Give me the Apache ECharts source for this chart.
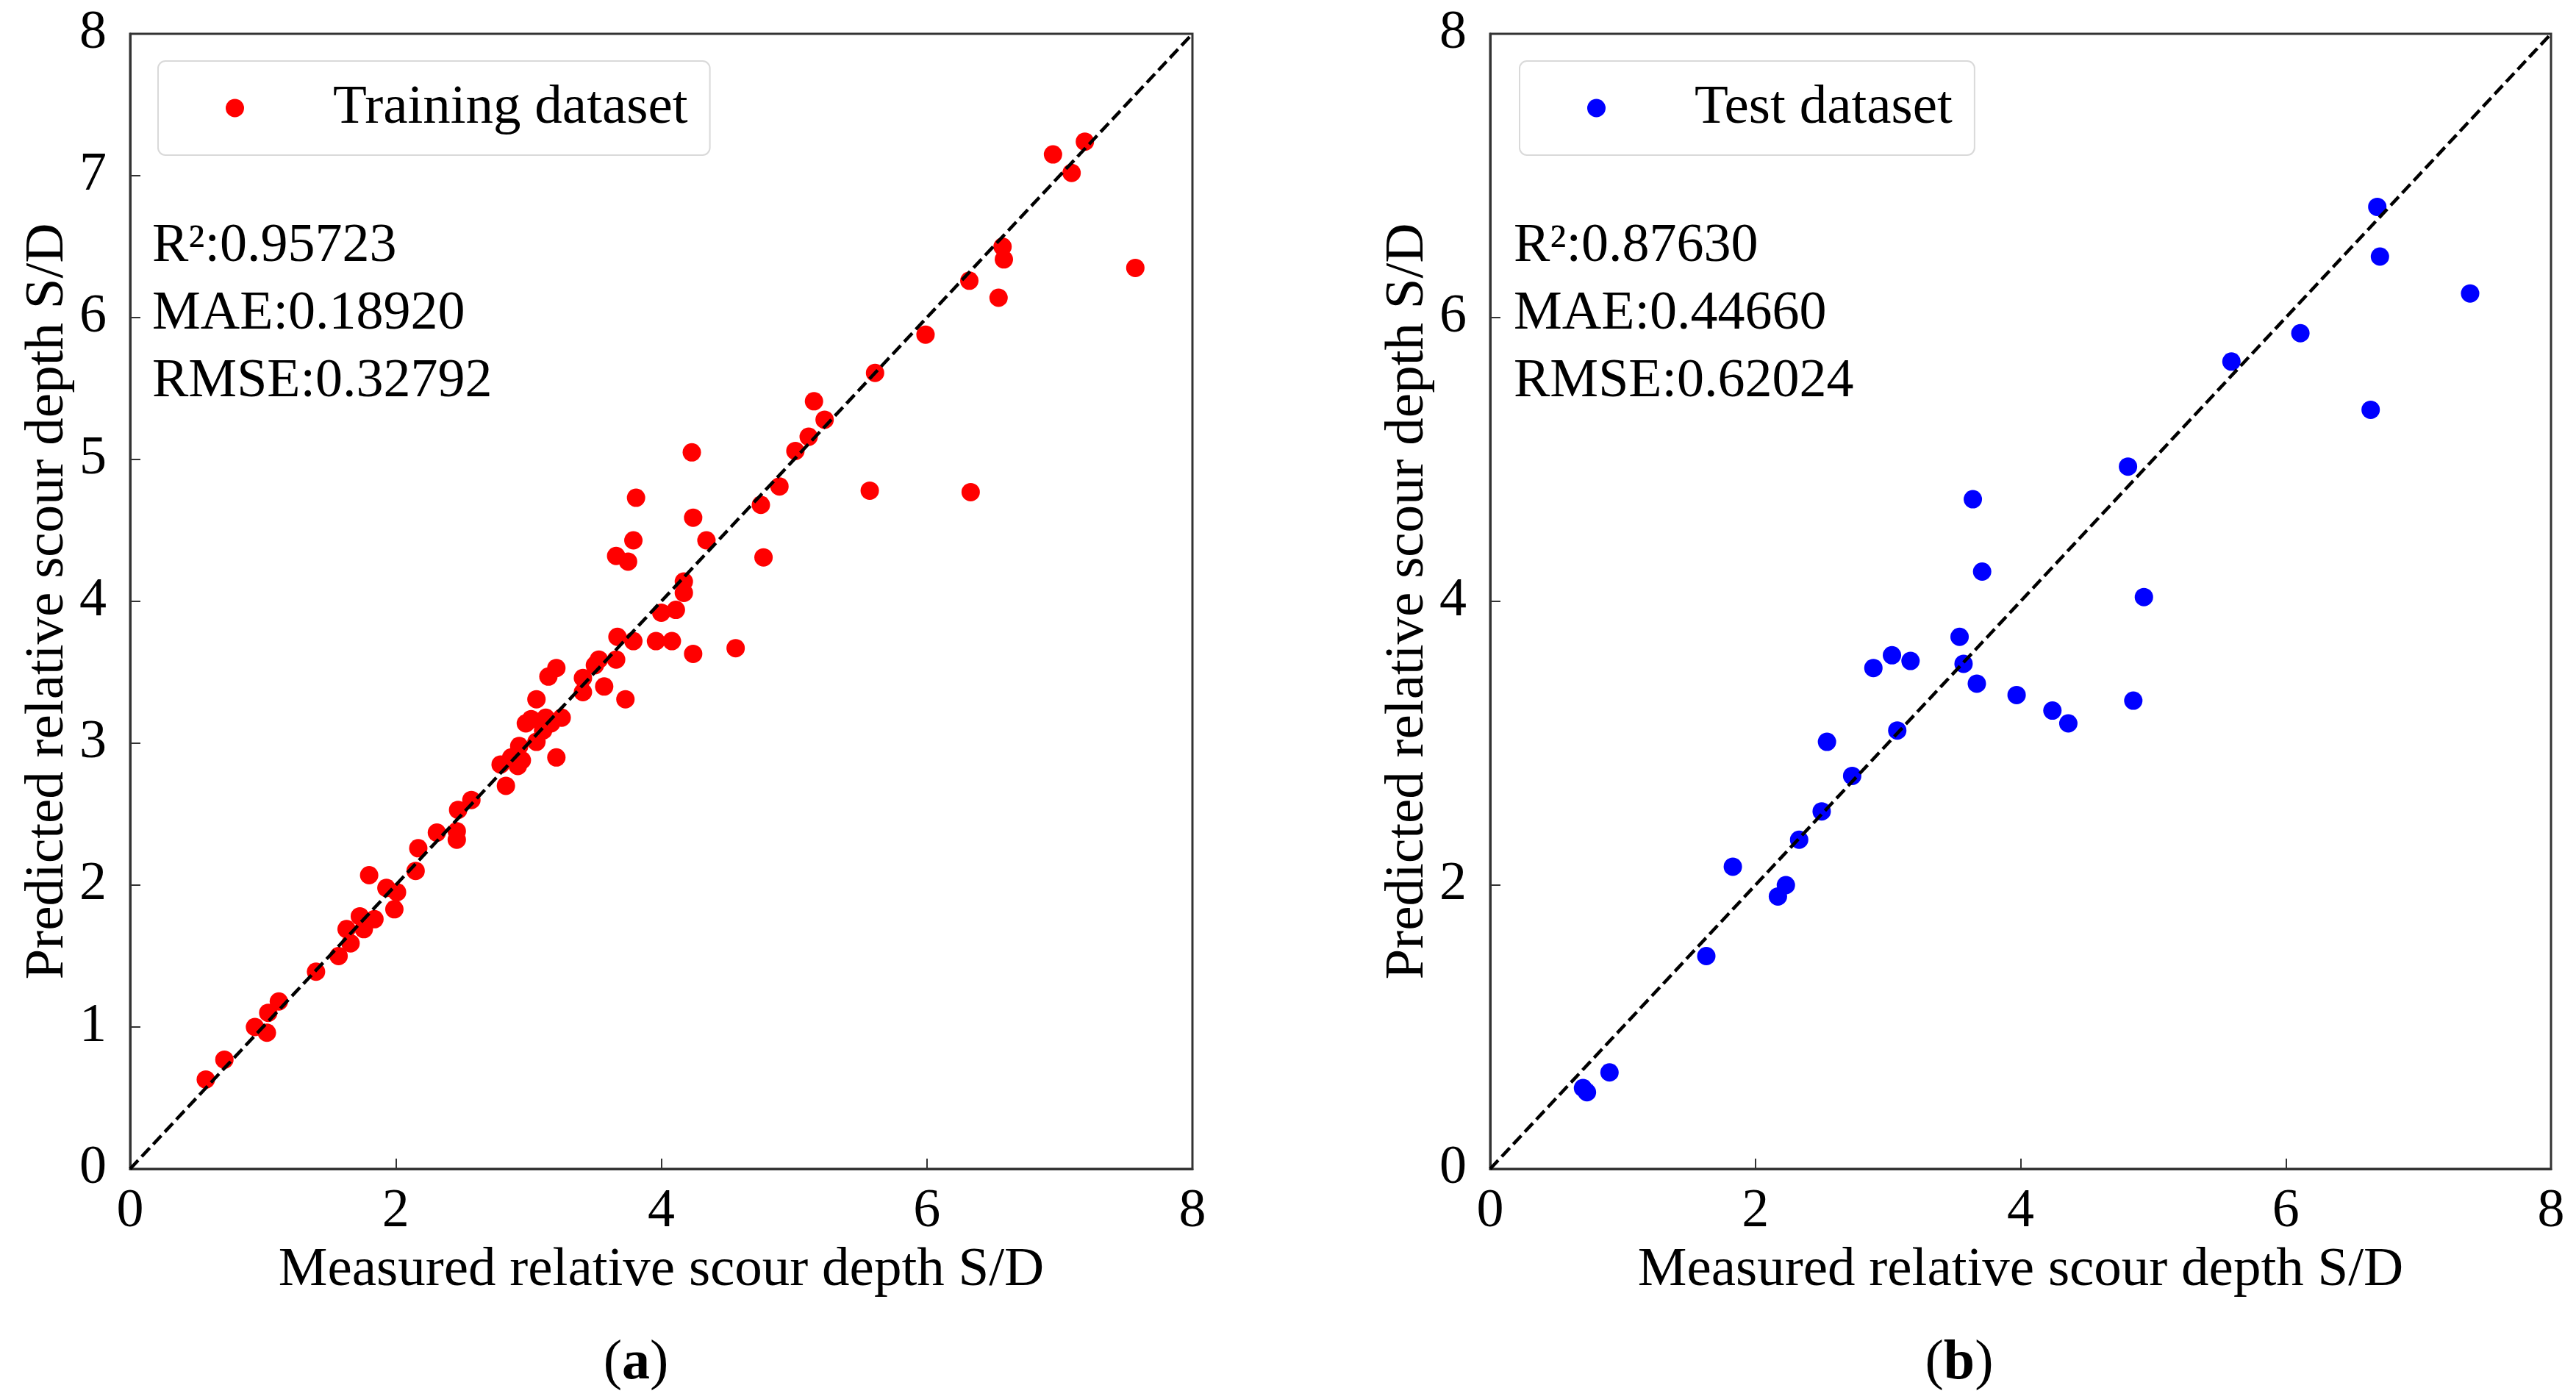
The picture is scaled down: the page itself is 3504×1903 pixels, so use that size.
<!DOCTYPE html>
<html>
<head>
<meta charset="utf-8">
<script src="https://cdn.jsdelivr.net/npm/echarts@6/dist/echarts.min.js"></script>
<style>
  html, body { margin: 0; padding: 0; background: #fff; }
  #main { width: 3504px; height: 1903px; }
</style>
</head>
<body>
<div id="main"></div>
<script>
// training set: measured (x) vs predicted (y) S/D
var trainX = [0.57, 0.71, 0.94, 1.04, 1.03, 1.12, 1.40, 1.57, 1.63, 1.66, 1.73, 1.76, 1.80, 1.84, 1.93, 1.99,
  2.01, 2.15, 2.17, 2.31, 2.46, 2.46, 2.47, 2.57, 2.79, 2.83, 2.87, 2.92, 2.93, 2.95, 2.98, 3.02,
  3.06, 3.06, 3.11, 3.13, 3.17, 3.15, 3.21, 3.21, 3.25, 3.41, 3.41, 3.50, 3.53, 3.57, 3.66, 3.67,
  3.73, 3.79, 3.66, 3.75, 3.79, 3.81, 3.96, 4.00, 4.08, 4.11, 4.17, 4.17, 4.23, 4.24, 4.24, 4.34,
  4.56, 4.75, 4.77, 4.89, 5.01, 5.11, 5.15, 5.23, 5.57, 5.61, 5.99, 6.32, 6.33, 6.54, 6.57, 6.58,
  6.95, 7.09, 7.19, 7.57];
var trainY = [0.63, 0.77, 1.00, 1.10, 0.96, 1.18, 1.39, 1.50, 1.69, 1.59, 1.78, 1.69, 2.07, 1.76, 1.98, 1.83,
  1.95, 2.10, 2.26, 2.37, 2.32, 2.38, 2.53, 2.60, 2.85, 2.70, 2.90, 2.84, 2.98, 2.88, 3.14, 3.17,
  3.01, 3.31, 3.09, 3.18, 3.14, 3.47, 3.53, 2.90, 3.18, 3.36, 3.46, 3.55, 3.59, 3.40, 3.59, 3.75,
  3.31, 3.72, 4.32, 4.28, 4.43, 4.73, 3.72, 3.92, 3.72, 3.94, 4.06, 4.14, 5.05, 3.63, 4.59, 4.43,
  3.67, 4.68, 4.31, 4.81, 5.06, 5.16, 5.41, 5.28, 4.78, 5.61, 5.88, 6.26, 4.77, 6.14, 6.50, 6.41,
  7.15, 7.02, 7.24, 6.35];

// test set
var testX = [0.70, 0.73, 0.90, 1.63, 1.83, 2.17, 2.23, 2.33, 2.50, 2.54, 2.73, 2.89, 3.03, 3.07, 3.17, 3.54,
  3.57, 3.64, 3.67, 3.71, 3.97, 4.24, 4.36, 4.81, 4.85, 4.93, 5.59, 6.11, 6.64, 6.69, 6.71, 7.39];
var testY = [0.57, 0.54, 0.68, 1.50, 2.13, 1.92, 2.00, 2.32, 2.52, 3.01, 2.77, 3.53, 3.62, 3.09, 3.58, 3.75,
  3.56, 4.72, 3.42, 4.21, 3.34, 3.23, 3.14, 4.95, 3.30, 4.03, 5.69, 5.89, 5.35, 6.78, 6.43, 6.17];

var xTicks = [0, 2, 4, 6, 8];
var statsA = ['R²:0.95723', 'MAE:0.18920', 'RMSE:0.32792'];
var statsB = ['R²:0.87630', 'MAE:0.44660', 'RMSE:0.62024'];
var diag = [[0, 0], [8, 8]];

function pairs(xs, ys) {
  var out = [];
  for (var i = 0; i < xs.length; i++) out.push([xs[i], ys[i]]);
  return out;
}

var FONT = 'Liberation Serif';
var myChart = echarts.init(document.getElementById('main'));

function xAxisCfg(idx) {
  return {
    gridIndex: idx, type: 'value', min: xTicks[0], max: xTicks[xTicks.length - 1], interval: 2,
    name: 'Measured relative scour depth S/D', nameLocation: 'middle', nameGap: 96,
    nameTextStyle: { fontSize: 75, fontFamily: FONT, color: '#000' },
    axisLine: { lineStyle: { color: '#333', width: 3 } },
    axisTick: { inside: true, length: 14, lineStyle: { color: '#333', width: 2 } },
    axisLabel: { fontSize: 74, fontFamily: FONT, color: '#000', margin: 22 },
    splitLine: { show: false }
  };
}
function yAxisCfg(idx, step) {
  return {
    gridIndex: idx, type: 'value', min: 0, max: 8, interval: step,
    name: 'Predicted relative scour depth S/D', nameLocation: 'middle', nameGap: 74,
    nameTextStyle: { fontSize: 75, fontFamily: FONT, color: '#000' },
    axisLine: { lineStyle: { color: '#333', width: 3 } },
    axisTick: { inside: true, length: 14, lineStyle: { color: '#333', width: 2 } },
    axisLabel: { fontSize: 74, fontFamily: FONT, color: '#000', margin: 32 },
    splitLine: { show: false }
  };
}
function legendCfg(name, left) {
  return {
    data: [name], left: left, top: 83, icon: 'circle', itemWidth: 25, itemHeight: 25,
    selectedMode: false,
    padding: [23, 30, 23, 92],
    borderColor: '#d9d9d9', borderWidth: 2, borderRadius: 10, backgroundColor: '#fff',
    textStyle: { fontSize: 75, fontFamily: FONT, color: '#000', lineHeight: 82, padding: [0, 0, 0, 116] }
  };
}
function statsCfg(lines, left) {
  return {
    text: lines.join('\n'), left: left, top: 290, padding: 0,
    textStyle: { fontSize: 74, fontFamily: FONT, fontWeight: 'normal', color: '#000', lineHeight: 92 }
  };
}
function captionCfg(letter, x) {
  return {
    type: 'text', x: x, y: 1855,
    style: {
      text: '{p|(}{b|' + letter + '}{p|)}', align: 'center', verticalAlign: 'middle',
      rich: {
        p: { fontSize: 76, fontFamily: FONT, fill: '#000' },
        b: { fontSize: 76, fontFamily: FONT, fontWeight: 'bold', fill: '#000' }
      }
    }
  };
}

var option = {
  backgroundColor: '#fff',
  animation: false,
  title: [statsCfg(statsA, 207), statsCfg(statsB, 2059)],
  legend: [legendCfg('Training dataset', 215), legendCfg('Test dataset', 2067)],
  grid: [
    { left: 177, top: 46, width: 1445, height: 1544, show: true, borderColor: '#333', borderWidth: 3 },
    { left: 2027, top: 46, width: 1443, height: 1544, show: true, borderColor: '#333', borderWidth: 3 }
  ],
  xAxis: [xAxisCfg(0), xAxisCfg(1)],
  yAxis: [yAxisCfg(0, 1), yAxisCfg(1, 2)],
  graphic: [captionCfg('a', 865), captionCfg('b', 2665)],
  series: [
    {
      name: 'Training dataset', type: 'scatter', xAxisIndex: 0, yAxisIndex: 0,
      data: pairs(trainX, trainY), symbolSize: 25, itemStyle: { color: '#ff0000', opacity: 1 }, z: 2
    },
    {
      name: 'Test dataset', type: 'scatter', xAxisIndex: 1, yAxisIndex: 1,
      data: pairs(testX, testY), symbolSize: 25, itemStyle: { color: '#0000ff', opacity: 1 }, z: 2
    },
    {
      name: 'diagA', type: 'line', xAxisIndex: 0, yAxisIndex: 0, data: diag, showSymbol: false,
      symbol: 'none', lineStyle: { color: '#000', width: 4.5, type: [16, 7] }, z: 3, silent: true
    },
    {
      name: 'diagB', type: 'line', xAxisIndex: 1, yAxisIndex: 1, data: diag, showSymbol: false,
      symbol: 'none', lineStyle: { color: '#000', width: 4.5, type: [16, 7] }, z: 3, silent: true
    }
  ]
};

myChart.setOption(option);
</script>
</body>
</html>
